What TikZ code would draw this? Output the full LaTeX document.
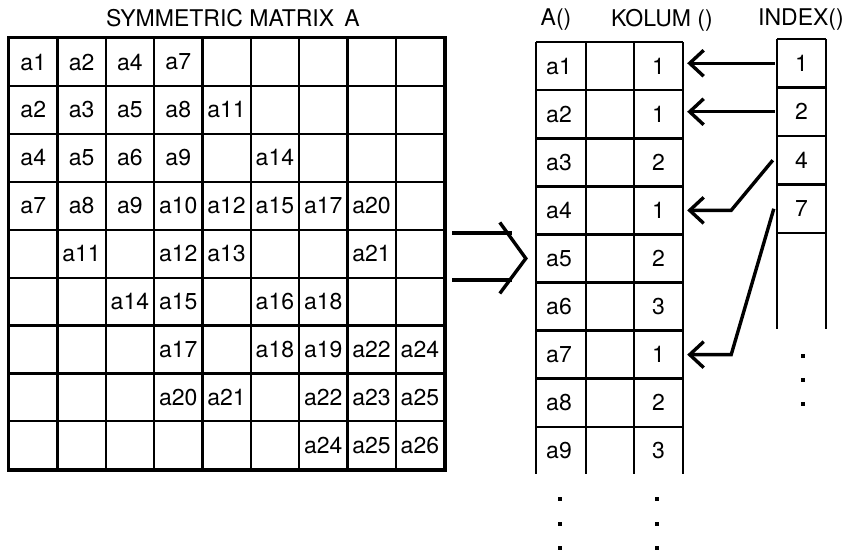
\documentclass[tikz,border=0pt]{standalone}
\usepackage{fontspec}
\setmainfont{TeX Gyre Heros}
\usetikzlibrary{arrows.meta}
\begin{document}
\begin{tikzpicture}[x=1pt,y=-1pt,
  every node/.style={font=\fontsize{23}{27}\selectfont, inner sep=0pt},
  cell/.style={draw, line width=2.2pt, minimum width=48.33pt, minimum height=47.9pt, anchor=north west},
  slot/.style={minimum height=48.1pt},
  rule/.style={line width=2.6pt},
  frame/.style={line width=3pt},
  pointer/.style={line width=3.4pt, -{Straight Barb[length=14pt,width=26pt]}},
  heavy/.style={line width=3.4pt},
  dot/.style={fill=black}
]
\useasboundingbox (0,0) rectangle (849,552);

% ---- symmetric matrix ----
\node (title) at (233,18) {SYMMETRIC MATRIX\hspace{0.45em}A};
\foreach \row [count=\i] in {
  {a1,a2,a4,a7,,,,,},
  {a2,a3,a5,a8,a11,,,,},
  {a4,a5,a6,a9,,a14,,,},
  {a7,a8,a9,a10,a12,a15,a17,a20,},
  {,a11,,a12,a13,,,a21,},
  {,,a14,a15,,a16,a18,,},
  {,,,a17,,a18,a19,a22,a24},
  {,,,a20,a21,,a22,a23,a25},
  {,,,,,,a24,a25,a26}} {
  \foreach \e [count=\j] in \row {
    \node[cell] (m-\i-\j) at ({8+48.33*(\j-1)},{37+47.9*(\i-1)}) {\e};
  }
}
\draw[frame] (m-1-1.north west) rectangle (m-9-9.south east);

% ---- storage arrays A(), KOLUM(), INDEX() ----
\node (hA) at (556,20) {A()};
\node (hK) at (662,20) {KOLUM ()};
\node (hI) at (801,20) {INDEX()};

\foreach \v [count=\i] in {a1,a2,a3,a4,a5,a6,a7,a8,a9} {
  \node[slot, minimum width=50pt] (A-\i) at (559,{42+48.1*(\i-0.5)}) {\v};
}
\foreach \v [count=\i] in {1,1,2,1,2,3,1,2,3} {
  \node[slot, minimum width=49pt] (K-\i) at (658.5,{42+48.1*(\i-0.5)}) {\v};
}
\foreach \v [count=\i] in {1,2,4,7} {
  \node[slot, minimum width=49pt, minimum height=48.5pt] (I-\i) at (801.5,{39+48.5*(\i-0.5)}) {\v};
}

% ruling of A() / KOLUM()
\foreach \x in {536,586,634,683} \draw[rule] (\x,42) -- (\x,474);
\foreach \k in {0,...,8} \draw[rule] (536,{42+48.1*\k}) -- (683,{42+48.1*\k});
% ruling of INDEX()
\foreach \x in {777,826} \draw[rule] (\x,39) -- (\x,329);
\foreach \k in {0,...,4} \draw[rule] (777,{39+48.5*\k}) -- (826,{39+48.5*\k});

% continuation dots
\foreach \y in {497,522,546} {
  \fill[dot] (558,\y) rectangle ++(4,4);
  \fill[dot] (655,\y) rectangle ++(4,4);
}
\foreach \y in {354,378,402} \fill[dot] (801,\y) rectangle ++(4,4);

% ---- pointers from INDEX() into KOLUM() ----
\foreach \k in {1,2,4,7} \coordinate (t\k) at ([xshift=4pt]K-\k.east);
\draw[pointer] ([xshift=-2pt]I-1.west) -- (t1 |- I-1.west);
\draw[pointer] ([xshift=-2pt]I-2.west) -- (t2 |- I-2.west);
\draw[pointer] ([xshift=-4pt]I-3.west) -- ([xshift=44pt]t4) -- (t4);
\draw[pointer] ([xshift=-3pt]I-4.west) -- ([xshift=44pt]t7) -- (t7);

% ---- big arrow from the matrix to the arrays ----
\coordinate (tip) at ([xshift=-8pt]A-5.west);
\coordinate (s1) at (452,233);
\coordinate (s2) at (452,280);
\draw[heavy] (s1) -- ++(60,0);
\draw[heavy] (s2) -- ++(60,0);
\draw[heavy] ([shift={(-26,-36)}]tip) -- (tip) -- ([shift={(-26,35)}]tip);
\end{tikzpicture}
\end{document}
